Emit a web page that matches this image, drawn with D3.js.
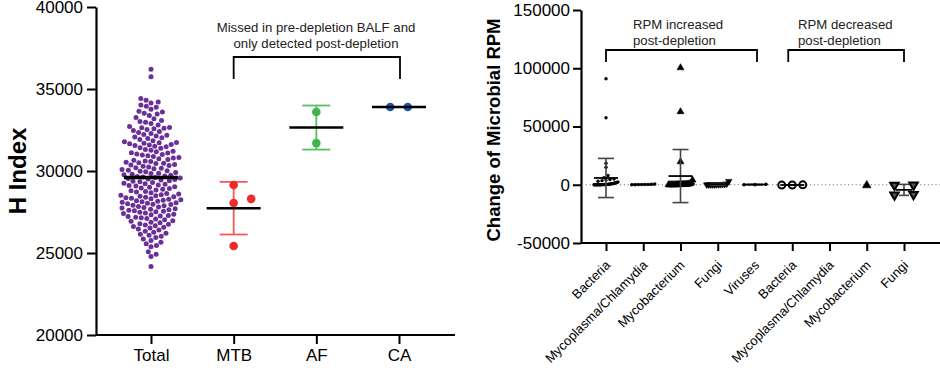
<!DOCTYPE html>
<html>
<head>
<meta charset="utf-8">
<script src="https://cdn.jsdelivr.net/npm/d3@7"></script>
<style>
  body { margin: 0; background: #fff; }
  svg { font-family: "Liberation Sans", Arial, sans-serif; }
</style>
</head>
<body>
<div id="main"></div>
<script>
// ---- left panel data (H index) ----
const hGroups = ["Total", "MTB", "AF", "CA"];
const hTotal = [
  36200, 35750,
  34420, 34310, 34200, 34150, 34030,
  33950, 33880, 33760, 33640, 33590, 33520,
  33470, 33380, 33260, 33190, 33080, 33020,
  32980, 32900, 32810, 32720, 32660, 32640, 32600, 32580, 32530,
  32470, 32410, 32350, 32290, 32220, 32180, 32130, 32070, 32020,
  31980, 31920, 31850, 31790, 31740, 31720, 31690, 31660, 31620, 31590, 31550, 31510,
  31480, 31420, 31380, 31310, 31260, 31200, 31170, 31120, 31090, 31040, 31010,
  30970, 30930, 30880, 30820, 30790, 30740, 30700, 30660, 30610, 30580, 30540, 30510,
  30480, 30450, 30400, 30360, 30330, 30290, 30250, 30200, 30170, 30130, 30090, 30050, 30010,
  29980, 29950, 29910, 29870, 29840, 29800, 29770, 29740, 29700, 29660, 29630, 29600, 29570, 29540, 29510,
  29480, 29450, 29410, 29370, 29340, 29300, 29260, 29220, 29190, 29150, 29120, 29080, 29040, 29010,
  28970, 28930, 28880, 28840, 28800, 28750, 28720, 28680, 28630, 28590, 28550, 28520,
  28490, 28460, 28430, 28400, 28370, 28340, 28310, 28280, 28250, 28220, 28190, 28160, 28130, 28100, 28070, 28040, 28010,
  27980, 27950, 27910, 27880, 27840, 27810, 27770, 27740, 27700, 27670, 27630, 27600, 27570, 27540, 27510,
  27480, 27440, 27410, 27370, 27330, 27290, 27260, 27220, 27180, 27150, 27110, 27070, 27030,
  26970, 26930, 26880, 26840, 26790, 26750, 26710, 26660, 26620, 26570, 26530,
  26460, 26400, 26330, 26270, 26200, 26140, 26080, 26020,
  25940, 25850, 25760, 25660, 25560,
  25450, 25380, 25080,
  24920, 24780,
  24170
];
const hMTB = [29150, 28300, 28050, 25430];
const hAF = [33600, 31700];
const hCA = [33900, 33900];
const hTicks = [20000, 25000, 30000, 35000, 40000];

// ---- right panel data (change of microbial RPM) ----
const rpmCategories = ["Bacteria", "Mycoplasma/Chlamydia", "Mycobacterium", "Fungi", "Viruses",
                       "Bacteria", "Mycoplasma/Chlamydia", "Mycobacterium", "Fungi"];
const rpmIncBacteria = [91000, 57500, 18500, 15000, 8000, 6000, 5000, 4500, 4000, 3500, 3000, 2500,
  2000, 2000, 1500, 1500, 1000, 1000, 1000, 800, 600, 500,
  400, 300, 300, 200, 200, 150, 100, 100, 80, 60, 50, 40, 30, 20, 10, 10, 5, 0];
const rpmIncMycoplasma = [600, 400, 300, 200, 150, 100, 50, 20];
const rpmIncMycobacterium = [100400, 62700, 19700, 4000, 2000, 1000,
  800, 600, 500, 400, 300, 300, 250, 200, 200, 150, 120, 100, 80, 60, 50, 40, 30, 20, 10, 0];
const rpmIncFungi = [3000, 800, 500, 400, 300, 200, 200, 100, 100, 50, 20, 10];
const rpmIncViruses = [400, 100, 0];
const rpmDecBacteria = [-300, -200, -100];
const rpmDecMycoplasma = [];
const rpmDecMycobacterium = [-500];
const rpmDecFungi = [-200, -400, -8300, -8700];
const rpmTicks = [-50000, 0, 50000, 100000, 150000];

const W = 940, H = 376;
const svg = d3.select("#main").append("svg").attr("width", W).attr("height", H);

// beeswarm (greedy, closest to centre)
function swarm(vals, y, d) {
  const pts = vals.map(v => ({ v: v, y: y(v), x: 0 })).sort((a, b) => a.v - b.v);
  const placed = [];
  pts.forEach(p => {
    const cands = [0];
    placed.forEach(q => {
      const dy = Math.abs(q.y - p.y);
      if (dy < d) { const dx = Math.sqrt(d * d - dy * dy); cands.push(q.x + dx, q.x - dx); }
    });
    cands.sort((a, b) => Math.abs(a) - Math.abs(b));
    for (const c of cands) {
      if (placed.every(q => (q.x - c) * (q.x - c) + (q.y - p.y) * (q.y - p.y) >= d * d - 0.01)) { p.x = c; break; }
    }
    placed.push(p);
  });
  return pts;
}

// Prism-like row spreading
function spread(vals, y, gap, step, maxW, mode) {
  const pts = vals.map(v => ({ v: v, y: y(v), x: 0 })).sort((a, b) => a.v - b.v);
  const rows = [];
  pts.forEach(p => {
    const r = rows[rows.length - 1];
    if (r && Math.abs(p.y - r[0].y) < gap) r.push(p); else rows.push([p]);
  });
  rows.forEach(r => {
    const k = r.length;
    const same = Math.abs(r[k - 1].y - r[0].y) < 1;
    if (mode === "alt" && !same) {
      r.forEach((p, i) => { p.x = (i % 2 ? 1 : -1) * Math.ceil(i / 2) * step; });
    } else {
      const s = k > 1 ? Math.min(step, maxW / (k - 1)) : 0;
      r.forEach((p, i) => { p.x = (i - (k - 1) / 2) * s; });
    }
  });
  return pts;
}

function styleAxis(g, size) {
  g.selectAll("line").attr("stroke", "#000").attr("stroke-width", 2);
  g.selectAll("path").attr("stroke", "#000").attr("stroke-width", 2.2);
  g.selectAll("text").attr("fill", "#000").style("font-size", size + "px");
}

// ================= LEFT PANEL =================
const yL = d3.scaleLinear().domain([20000, 40000]).range([335, 7]);
const xL = d3.scalePoint().domain(hGroups).range([151, 399]);

const gyL = svg.append("g").attr("transform", "translate(96,0)")
  .call(d3.axisLeft(yL).tickValues(hTicks).tickSize(9).tickPadding(4).tickSizeOuter(0).tickFormat(d => String(d)));
styleAxis(gyL, 17);

const gxL = svg.append("g").attr("transform", "translate(0,335)")
  .call(d3.axisBottom(xL).tickSize(9).tickPadding(5).tickSizeOuter(0));
gxL.select(".domain").remove();
styleAxis(gxL, 17);
svg.append("line").attr("x1", 96).attr("x2", 455).attr("y1", 335).attr("y2", 335)
  .attr("stroke", "#000").attr("stroke-width", 2.2);

svg.append("text")
  .attr("transform", "translate(26,171) rotate(-90)")
  .attr("text-anchor", "middle")
  .style("font-size", "24px").style("font-weight", "bold")
  .text("H Index");

const hSets = [
  { name: "Total", vals: hTotal, color: "#6b2f99", bar: null, r: 2.5, meanW: 3.5 },
  { name: "MTB", vals: hMTB, color: "#ee2a2a", bar: "#f05a5a", r: 4.3, meanW: 2.5 },
  { name: "AF", vals: hAF, color: "#3db549", bar: "#55c15e", r: 4.3, meanW: 2.5 },
  { name: "CA", vals: hCA, color: "#1f54a8", bar: "#1f54a8", r: 4.3, meanW: 2.5 }
];

hSets.forEach(s => {
  const cx = xL(s.name);
  const m = d3.mean(s.vals);
  const sd = d3.deviation(s.vals) || 0;
  if (s.bar && sd > 0) {
    const eb = svg.append("g").attr("stroke", s.bar).attr("stroke-width", 1.8);
    eb.append("line").attr("x1", cx).attr("x2", cx).attr("y1", yL(m + sd)).attr("y2", yL(m - sd));
    [m + sd, m - sd].forEach(v => eb.append("line").attr("x1", cx - 14).attr("x2", cx + 14).attr("y1", yL(v)).attr("y2", yL(v)));
  }
  const pts = s.name === "Total" ? swarm(s.vals, yL, 5.6) : spread(s.vals, yL, 8.6, 17.5, 40, "alt");
  svg.append("g").selectAll("circle").data(pts).join("circle")
    .attr("cx", d => cx + d.x).attr("cy", d => d.y).attr("r", s.r).attr("fill", s.color);
  svg.append("line").attr("x1", cx - 27).attr("x2", cx + 27).attr("y1", yL(m)).attr("y2", yL(m))
    .attr("stroke", "#000").attr("stroke-width", s.meanW);
});

// bracket + note
const bl = svg.append("g").attr("fill", "none").attr("stroke", "#000").attr("stroke-width", 1.8);
bl.append("path").attr("d", `M${xL("MTB")},79V57H${xL("CA") + 1}V79`);
const noteL = svg.append("text").attr("text-anchor", "middle").attr("fill", "#222").style("font-size", "13.2px");
noteL.append("tspan").attr("x", 316).attr("y", 31.5).text("Missed in pre-depletion BALF and");
noteL.append("tspan").attr("x", 316).attr("y", 47.5).text("only detected post-depletion");

// ================= RIGHT PANEL =================
const yR = d3.scaleLinear().domain([-50000, 150000]).range([243, 10]);
const xR = d3.scalePoint().domain(d3.range(rpmCategories.length)).range([606, 904]);

const gyR = svg.append("g").attr("transform", "translate(581,0)")
  .call(d3.axisLeft(yR).tickValues(rpmTicks).tickSize(8).tickPadding(3).tickSizeOuter(0).tickFormat(d => String(d)));
styleAxis(gyR, 17);

// zero reference line
svg.append("line").attr("x1", 582).attr("x2", 940).attr("y1", yR(0)).attr("y2", yR(0))
  .attr("stroke", "#777").attr("stroke-width", 1).attr("stroke-dasharray", "1.2,2.6");

const gxR = svg.append("g").attr("transform", "translate(0,243)")
  .call(d3.axisBottom(xR).tickSize(8).tickSizeOuter(0).tickFormat(i => rpmCategories[i]));
gxR.select(".domain").remove();
styleAxis(gxR, 13);
gxR.selectAll("text")
  .attr("x", 0).attr("y", 0).attr("dy", 0)
  .attr("transform", "translate(4.5,23) rotate(-45)")
  .style("text-anchor", "end");
svg.append("line").attr("x1", 581).attr("x2", 940).attr("y1", 243).attr("y2", 243)
  .attr("stroke", "#000").attr("stroke-width", 2.2);

svg.append("text")
  .attr("transform", "translate(500,130) rotate(-90)")
  .attr("text-anchor", "middle")
  .style("font-size", "18.5px").style("font-weight", "bold")
  .text("Change of Microbial RPM");

const rpmSeries = [rpmIncBacteria, rpmIncMycoplasma, rpmIncMycobacterium, rpmIncFungi, rpmIncViruses,
                   rpmDecBacteria, rpmDecMycoplasma, rpmDecMycobacterium, rpmDecFungi];
const rpmMarks = [
  { shape: "dot", r: 1.7, step: 4, maxW: 24 },
  { shape: "dot", r: 1.7, step: 4, maxW: 23 },
  { shape: "up", side: 7, step: 5, maxW: 24 },
  { shape: "down", side: 6.5, step: 5, maxW: 22 },
  { shape: "dot", r: 1.8, step: 11, maxW: 24 },
  { shape: "ring", r: 3.5, step: 10.5, maxW: 24 },
  { shape: "dot", r: 1.7, step: 4, maxW: 24 },
  { shape: "up", side: 8.5, step: 8, maxW: 24 },
  { shape: "downOpen", side: 8.5, step: 19, maxW: 24 }
];

function triPath(side, down) {
  const h = side * Math.sqrt(3) / 2;
  const t = down ? -1 : 1;
  return `M0,${-t * h * 2 / 3}L${side / 2},${t * h / 3}L${-side / 2},${t * h / 3}Z`;
}

rpmSeries.forEach((vals, i) => {
  if (!vals.length) return;
  const cx = xR(i);
  const mk = rpmMarks[i];
  const size = mk.r ? mk.r * 2 : mk.side;
  const pts = spread(vals, yR, size, mk.step, mk.maxW, "sym");
  const g = svg.append("g");
  pts.forEach(p => {
    if (mk.shape === "dot") {
      g.append("circle").attr("cx", cx + p.x).attr("cy", p.y).attr("r", mk.r).attr("fill", "#000");
    } else if (mk.shape === "ring") {
      g.append("circle").attr("cx", cx + p.x).attr("cy", p.y).attr("r", mk.r)
        .attr("fill", "#fff").attr("stroke", "#000").attr("stroke-width", 2);
    } else {
      const down = mk.shape !== "up";
      const open = mk.shape === "downOpen";
      g.append("path").attr("d", triPath(mk.side, down))
        .attr("transform", `translate(${cx + p.x},${p.y})`)
        .attr("fill", open ? "#555" : "#000")
        .attr("stroke", "#000").attr("stroke-width", open ? 2 : 0.6)
        .attr("stroke-linejoin", "miter");
    }
  });
  if (vals.length > 1) {
    const m = d3.mean(vals);
    const sd = d3.deviation(vals);
    const capW = mk.shape === "downOpen" ? 5 : 8;
    const eb = g.append("g").attr("stroke", "#444").attr("stroke-width", 1.6);
    eb.append("line").attr("x1", cx).attr("x2", cx).attr("y1", yR(m + sd)).attr("y2", yR(m - sd));
    [m + sd, m - sd].forEach(v => eb.append("line").attr("x1", cx - capW).attr("x2", cx + capW).attr("y1", yR(v)).attr("y2", yR(v)));
    const mw = mk.shape === "downOpen" ? 8 : 12;
    g.append("line").attr("x1", cx - mw).attr("x2", cx + mw).attr("y1", yR(m)).attr("y2", yR(m))
      .attr("stroke", "#000").attr("stroke-width", 1.8);
  }
});

// brackets + notes
const br = svg.append("g").attr("fill", "none").attr("stroke", "#000").attr("stroke-width", 1.8);
br.append("path").attr("d", `M${xR(0)},62V50H${xR(4) + 2}V62`);
br.append("path").attr("d", `M${xR(5) - 4},62V50H${xR(8)}V62`);
[[633, "RPM increased"], [798, "RPM decreased"]].forEach(([x, t]) => {
  const tx = svg.append("text").attr("fill", "#222").style("font-size", "13.2px");
  tx.append("tspan").attr("x", x).attr("y", 29).text(t);
  tx.append("tspan").attr("x", x).attr("y", 44.5).text("post-depletion");
});
</script>
</body>
</html>
